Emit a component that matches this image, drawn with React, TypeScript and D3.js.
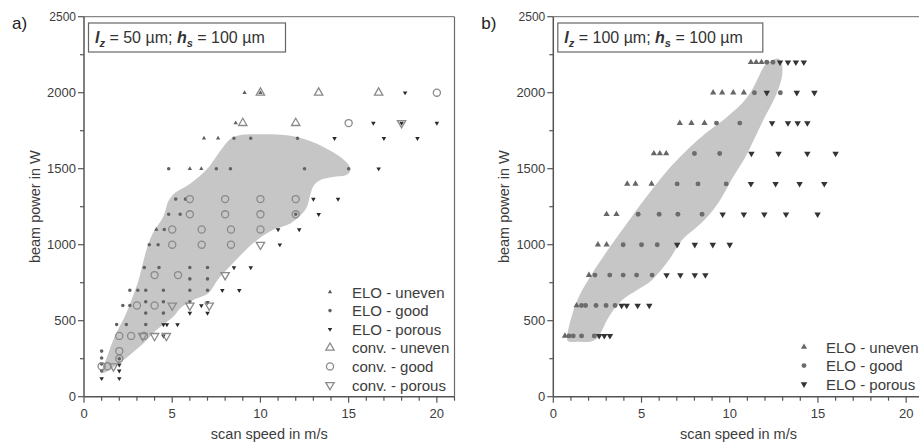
import React from 'react'
import * as d3 from 'd3'

type Pt = [number, number]

const xTicks = [0, 5, 10, 15, 20]
const yTicks = [0, 500, 1000, 1500, 2000, 2500]

// ---- panel a) lz = 50 µm ----
const eloUnevenA: Pt[] = [
  [9.1, 2000], [10, 2000], [8.6, 1800], [6.8, 1700], [7.6, 1700],
  [6.0, 1500], [6.65, 1500], [4.1, 1100],
]
const eloGoodA: Pt[] = [
  [8.5, 1700], [9.45, 1700], [12.1, 1700],
  [4.8, 1500], [7.5, 1500], [8.3, 1500], [12.5, 1500], [15, 1500],
  [5.2, 1300], [5.75, 1300],
  [4.8, 1200], [5.45, 1200], [12, 1200],
  [4.55, 1100],
  [3.7, 1000], [4.2, 1000],
  [3.42, 850], [4.25, 850], [6, 850], [7, 850],
  [6, 775], [7, 775],
  [2.6, 700], [3.05, 700], [3.5, 700], [4.5, 700], [6, 700], [7, 700],
  [3.5, 625], [4.5, 625], [6, 625],
  [2.2, 600], [2.6, 600],
  [3.5, 550], [4.5, 550],
  [1.85, 475], [2.4, 475], [3.5, 475],
  [1.0, 300], [1.0, 255], [1.0, 215], [1.0, 170], [2.0, 250],
]
const eloPorousA: Pt[] = [
  [18.2, 2000], [16.4, 1800], [18, 1800], [20, 1800],
  [14.2, 1700], [17, 1700], [18.9, 1700], [16.7, 1500],
  [13, 1300], [14.4, 1300], [13.3, 1200], [11, 1100], [12.2, 1100],
  [11.1, 1000], [8.5, 850], [9.45, 850], [7.84, 700], [8.8, 700],
  [6.65, 600], [7.0, 620], [6, 550], [7, 550],
  [4.5, 475], [4.7, 475], [5.3, 475], [4.5, 400],
  [2.0, 210], [2.0, 170], [1.0, 120], [2.0, 120],
]
const convUnevenA: Pt[] = [
  [10, 2000], [13.3, 2000], [16.7, 2000], [9, 1800], [12, 1800],
]
const convGoodA: Pt[] = [
  [20, 2000], [15, 1800],
  [6, 1300], [8, 1300], [10, 1300], [12, 1300],
  [6, 1200], [8, 1200], [10, 1200], [12, 1200],
  [5, 1100], [6.67, 1100], [8.33, 1100], [10, 1100],
  [5, 1000], [6.67, 1000], [8.33, 1000],
  [4, 800], [5.33, 800],
  [3, 600], [4, 600],
  [2, 400], [2.67, 400], [3.4, 400],
  [2, 300], [2, 250], [1, 200], [1.33, 200],
]
const convPorousA: Pt[] = [
  [18, 1800], [10, 1000], [8, 800], [5, 600], [6, 600], [7.1, 600],
  [3.33, 400], [4, 400], [4.67, 400], [1.67, 200],
]
const regionA: Pt[] = [
  [1.0, 155], [1.3, 260], [1.75, 400], [2.3, 525], [2.7, 640], [3.05, 750],
  [3.3, 860], [3.55, 970], [3.9, 1075], [4.5, 1185], [4.8, 1290], [5.2, 1345],
  [5.8, 1385], [6.55, 1450], [7.1, 1515], [7.5, 1580], [7.9, 1645], [8.35, 1700],
  [8.9, 1722], [10, 1726], [11.5, 1720], [12.6, 1690], [13.7, 1635], [14.5, 1580],
  [15.0, 1525], [15.1, 1490], [14.9, 1460], [14.1, 1445], [13.4, 1425], [13.0, 1385],
  [12.8, 1315], [12.6, 1240], [12.1, 1175], [11.7, 1140], [10.7, 1097], [9.8, 1030],
  [9.0, 945], [8.45, 880], [7.9, 812], [7.5, 757], [7.05, 680], [6.2, 636],
  [5.45, 581], [5.06, 526], [4.12, 440], [3.36, 350], [2.6, 275], [1.85, 208],
  [1.3, 165],
]

// ---- panel b) lz = 100 µm ----
const eloUnevenB: Pt[] = [
  [11.2, 2200], [11.5, 2200], [11.8, 2200],
  [9.06, 2000], [9.57, 2000], [10.2, 2000], [10.8, 2000],
  [7.17, 1800], [7.83, 1800], [8.57, 1800],
  [5.7, 1600], [6.04, 1600], [6.4, 1600],
  [4.19, 1400], [4.66, 1400], [5.57, 1400],
  [3.02, 1200], [3.58, 1200],
  [2.53, 1000], [3.02, 1000],
  [2.02, 800],
  [1.32, 600],
  [0.66, 400],
]
const eloGoodB: Pt[] = [
  [12.1, 2200], [12.45, 2200],
  [11.4, 2000], [12.87, 2000],
  [9.25, 1800], [10.57, 1800],
  [8.0, 1600], [9.43, 1600],
  [7.02, 1400], [8.2, 1400], [9.8, 1400],
  [4.81, 1200], [6.0, 1200], [7.06, 1200], [8.43, 1200],
  [3.96, 1000], [5.0, 1000], [5.89, 1000],
  [2.36, 800], [3.2, 800], [3.96, 800], [4.72, 800], [5.6, 800],
  [1.6, 600], [1.83, 600], [2.42, 600], [2.99, 600], [3.5, 600],
  [0.89, 400], [1.13, 400], [1.6, 400], [2.32, 400],
]
const eloPorousB: Pt[] = [
  [12.85, 2200], [13.3, 2200], [13.75, 2200], [14.2, 2200],
  [12.1, 2000], [13.8, 2000], [14.8, 2000],
  [12.4, 1800], [13.3, 1800], [13.85, 1800], [14.4, 1800],
  [11.23, 1600], [12.77, 1600], [14.4, 1600], [16.0, 1600],
  [11.2, 1400], [12.6, 1400], [13.96, 1400], [15.36, 1400],
  [9.6, 1200], [10.8, 1200], [11.96, 1200], [13.19, 1200], [14.98, 1200],
  [7.02, 1000], [8.02, 1000], [9.04, 1000], [10.0, 1000],
  [6.42, 800], [7.2, 800], [8.02, 800], [8.62, 800],
  [3.87, 600], [4.16, 600], [4.78, 600], [5.44, 600],
  [2.6, 400], [2.89, 400], [3.21, 400],
]
const regionB: Pt[] = [
  [0.79, 373], [0.98, 504], [1.45, 658], [2.2, 811], [2.96, 943], [3.9, 1096],
  [4.85, 1250], [5.8, 1393], [6.74, 1524], [7.68, 1634], [8.62, 1732], [9.75, 1831],
  [10.7, 1930], [11.26, 2018], [11.64, 2105], [12.0, 2182], [12.5, 2218], [12.8, 2222],
  [12.98, 2171], [12.92, 2083], [12.58, 1974], [12.0, 1842], [11.45, 1711], [10.9, 1579],
  [10.2, 1447], [9.57, 1316], [8.9, 1206], [8.15, 1118], [7.3, 1031], [6.55, 899],
  [5.6, 768], [4.75, 702], [3.9, 636], [3.15, 526], [2.77, 439], [2.5, 384],
  [2.1, 362], [1.45, 362], [0.9, 362],
]

const FONT = '"Liberation Sans", Arial, Helvetica, sans-serif'
const TEXT = '#3c3c3c'

type Style = { type: 'up' | 'down' | 'circle'; size: number; fill: string; stroke: string; sw: number }

const symPath = (s: Style) => {
  if (s.type === 'circle') return d3.symbol().type(d3.symbolCircle).size(s.size)() as string
  return d3.symbol().type(d3.symbolTriangle).size(s.size)() as string
}

const Marks = ({ pts, x, y, s }: { pts: Pt[]; x: any; y: any; s: Style }) => {
  const p = symPath(s)
  return (
    <g>
      {pts.map((d, i) => (
        <path
          key={i}
          d={p}
          transform={`translate(${x(d[0])},${y(d[1])})${s.type === 'down' ? ' rotate(180)' : ''}`}
          fill={s.fill}
          stroke={s.stroke}
          strokeWidth={s.sw}
        />
      ))}
    </g>
  )
}

const smallUp: Style = { type: 'up', size: 8, fill: '#5e5e5e', stroke: 'none', sw: 0 }
const smallDot: Style = { type: 'circle', size: 10, fill: '#626262', stroke: 'none', sw: 0 }
const smallDown: Style = { type: 'down', size: 9, fill: '#2a2a2a', stroke: 'none', sw: 0 }
const convUp: Style = { type: 'up', size: 30, fill: 'none', stroke: '#8a8a8a', sw: 1.3 }
const convCircle: Style = { type: 'circle', size: 40, fill: 'none', stroke: '#8a8a8a', sw: 1.3 }
const convDown: Style = { type: 'down', size: 30, fill: 'none', stroke: '#8a8a8a', sw: 1.3 }
const bigUp: Style = { type: 'up', size: 17, fill: '#666', stroke: 'none', sw: 0 }
const bigDot: Style = { type: 'circle', size: 19, fill: '#6c6c6c', stroke: 'none', sw: 0 }
const bigDown: Style = { type: 'down', size: 18, fill: '#333', stroke: 'none', sw: 0 }

type Series = { pts: Pt[]; s: Style; label: string }

const Panel = ({
  x0, letter, lz, series, region, legendX, legendY, boxW,
}: {
  x0: number; letter: string; lz: string; series: Series[]; region: Pt[]
  legendX: number; legendY: number; boxW: number
}) => {
  const x = d3.scaleLinear().domain([0, 21]).range([x0, x0 + 370.5])
  const y = d3.scaleLinear().domain([0, 2500]).range([396.7, 16.7])
  const area = d3.line<Pt>().x(d => x(d[0])).y(d => y(d[1])).curve(d3.curveCatmullRomClosed.alpha(0.5))
  const [top, bottom] = [y(2500), y(0)]
  const right = x(21)
  return (
    <g fontFamily={FONT}>
      <path d={area(region) as string} fill="#c6c6c6" />
      {/* frame */}
      <line x1={x0} x2={right} y1={top} y2={top} stroke="#6a6a6a" strokeWidth={1} />
      <line x1={right} x2={right} y1={top} y2={bottom} stroke="#6a6a6a" strokeWidth={1.2} />
      {series.map((sr, i) => <Marks key={i} pts={sr.pts} x={x} y={y} s={sr.s} />)}
      {/* axes */}
      <line x1={x0} x2={x0} y1={top} y2={bottom} stroke="#555" strokeWidth={1.5} />
      <line x1={x0} x2={right} y1={bottom} y2={bottom} stroke="#555" strokeWidth={1.5} />
      {d3.range(0, 22, 1).map(t => (
        <line key={'xm' + t} x1={x(t)} x2={x(t)} y1={bottom} y2={bottom + (t % 5 === 0 ? 6 : 4)} stroke="#555" strokeWidth={1.2} />
      ))}
      {d3.range(0, 2501, 250).map(t => (
        <line key={'ym' + t} x1={x0} x2={x0 - (t % 500 === 0 ? 6 : 4)} y1={y(t)} y2={y(t)} stroke="#555" strokeWidth={1.2} />
      ))}
      {xTicks.map(t => (
        <text key={'xl' + t} x={x(t)} y={418} textAnchor="middle" fontSize={13} fill={TEXT}>{t}</text>
      ))}
      {yTicks.map(t => (
        <text key={'yl' + t} x={x0 - 8} y={y(t) + 4.5} textAnchor="end" fontSize={t === 2500 ? 12 : 13} fill={TEXT}>{t}</text>
      ))}
      <text x={x(10.5)} y={439} textAnchor="middle" fontSize={14.5} fill={TEXT}>scan speed in m/s</text>
      <text transform={`translate(${x0 - 44},${y(1250)}) rotate(-90)`} textAnchor="middle" fontSize={14.5} fill={TEXT}>beam power in W</text>
      <text x={x0 - 72} y={29} fontSize={17} fill="#222">{letter}</text>
      {/* parameter box */}
      <rect x={x0 + 4.5} y={23} width={boxW} height={29} fill="white" stroke="#666" strokeWidth={1.2} />
      <text x={x0 + 11} y={43} fontSize={16} fill="#333">
        <tspan fontWeight="bold" fontStyle="italic">l</tspan>
        <tspan fontWeight="bold" fontStyle="italic" fontSize={11} dy={4}>z</tspan>
        <tspan dy={-4}>{` = ${lz} µm; `}</tspan>
        <tspan fontWeight="bold" fontStyle="italic">h</tspan>
        <tspan fontWeight="bold" fontStyle="italic" fontSize={11} dy={4}>s</tspan>
        <tspan dy={-4}>{' = 100 µm'}</tspan>
      </text>
      {/* legend */}
      {series.map((sr, i) => {
        const ly = legendY + i * 18.6
        return (
          <g key={'lg' + i}>
            <path d={symPath(sr.s)} transform={`translate(${legendX},${ly})${sr.s.type === 'down' ? ' rotate(180)' : ''}`}
              fill={sr.s.fill} stroke={sr.s.stroke} strokeWidth={sr.s.sw} />
            <text x={legendX + 22} y={ly + 5.5} fontSize={15} fill={TEXT}>{sr.label}</text>
          </g>
        )
      })}
    </g>
  )
}

const seriesA: Series[] = [
  { pts: eloUnevenA, s: smallUp, label: 'ELO - uneven' },
  { pts: eloGoodA, s: smallDot, label: 'ELO - good' },
  { pts: eloPorousA, s: smallDown, label: 'ELO - porous' },
  { pts: convUnevenA, s: convUp, label: 'conv. - uneven' },
  { pts: convGoodA, s: convCircle, label: 'conv. - good' },
  { pts: convPorousA, s: convDown, label: 'conv. - porous' },
]
const seriesB: Series[] = [
  { pts: eloUnevenB, s: bigUp, label: 'ELO - uneven' },
  { pts: eloGoodB, s: bigDot, label: 'ELO - good' },
  { pts: eloPorousB, s: bigDown, label: 'ELO - porous' },
]

export default function App() {
  return (
    <svg width={919} height={443} style={{ position: 'absolute', left: 0, top: 0, background: 'white' }}>
      <rect width={919} height={443} fill="white" />
      <Panel x0={84} letter="a)" lz="50" series={seriesA} region={regionA} legendX={330} legendY={292} boxW={197} />
      <Panel x0={553.3} letter="b)" lz="100" series={seriesB} region={regionB} legendX={804} legendY={347} boxW={205} />
    </svg>
  )
}
